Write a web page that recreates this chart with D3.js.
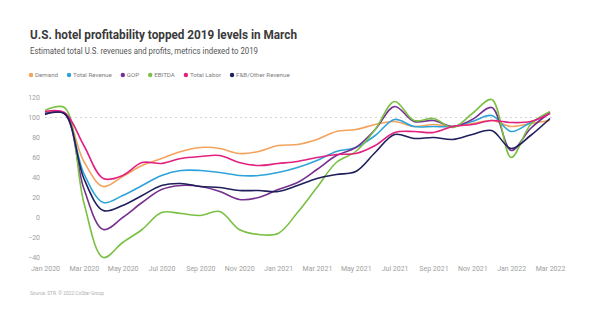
<!DOCTYPE html>
<html>
<head>
<meta charset="utf-8">
<script src="https://cdn.jsdelivr.net/npm/d3@7"></script>
<style>
  body { margin: 0; background: #fff; }
  svg { font-family: Roboto, "Noto Sans", sans-serif; }
</style>
</head>
<body>
<svg id="chart"></svg>
<script>
const svg = d3.select("#chart");
const box = { width: 590, height: 324 };

// month index 0 = Jan 2020 ... 26 = Mar 2022
const monthIndex = d3.range(27);
const tickIndex = [0, 2, 4, 6, 8, 10, 12, 14, 16, 18, 20, 22, 24, 26];
const tickLabels = ["Jan 2020", "Mar 2020", "May 2020", "Jul 2020", "Sep 2020", "Nov 2020",
  "Jan 2021", "Mar 2021", "May 2021", "Jul 2021", "Sep 2021", "Nov 2021", "Jan 2022", "Mar 2022"];
const yTicks = [-40, -20, 0, 20, 40, 60, 80, 100, 120];

const seriesNames = ["Demand", "Total Revenue", "GOP", "EBITDA", "Total Labor", "F&B/Other Revenue"];
const seriesColors = ["#f4a35c", "#2ea3d9", "#76308f", "#79c043", "#e2207f", "#1e1f5b"];

const demand = [105, 104, 56, 31, 41, 52, 59, 66, 70, 69, 64, 66, 72, 73, 78, 86, 88, 93, 96, 91, 93, 91, 94, 97, 91, 94, 97];
const totalRevenue = [104, 104, 44, 15, 22, 32, 42, 47, 47, 45, 42, 42, 45, 50, 57, 66, 70, 82, 98, 91, 91, 91, 96, 102, 86, 95, 105];
const gop = [104, 104, 29, -12, 0, 15, 28, 32, 31, 26, 18, 20, 28, 35, 48, 62, 70, 88, 111, 96, 97, 91, 98, 110, 67, 89, 105];
const ebitda = [107, 110, 15, -40, -25, -12, 5, 4, 2, 6, -12, -17, -16, 5, 30, 55, 66, 88, 116, 97, 99, 90, 104, 118, 60, 93, 106];
const totalLabor = [106, 105, 72, 39, 42, 55, 54, 59, 61, 62, 55, 52, 54, 56, 60, 63, 64, 72, 85, 86, 85, 91, 93, 97, 95, 96, 104];
const fbOther = [103, 104, 39, 7, 12, 22, 32, 34, 31, 30, 27, 27, 26, 32, 39, 43, 46, 65, 83, 79, 80, 78, 83, 87, 69, 82, 99];

const seriesValues = [demand, totalRevenue, gop, ebitda, totalLabor, fbOther];

svg.attr("width", box.width).attr("height", box.height);

const x = d3.scaleLinear().domain([0, 26]).range([45, 550]);
const y = d3.scaleLinear().domain([-40, 120]).range([257.5, 97.5]);

// title + subtitle
svg.append("text")
  .attr("x", 30).attr("y", 39)
  .attr("font-size", 13.5).attr("font-weight", 700)
  .attr("fill", "#3a3a3a")
  .attr("textLength", 267).attr("lengthAdjust", "spacingAndGlyphs")
  .text("U.S. hotel profitability topped 2019 levels in March");

svg.append("text")
  .attr("x", 30).attr("y", 53.5)
  .attr("font-size", 9).attr("fill", "#555")
  .attr("textLength", 228).attr("lengthAdjust", "spacingAndGlyphs")
  .text("Estimated total U.S. revenues and profits, metrics indexed to 2019");

// legend
const legend = svg.append("g").attr("transform", "translate(31, 75)");
let lx = 0;
seriesNames.forEach((name, i) => {
  legend.append("circle")
    .attr("cx", lx).attr("cy", 0).attr("r", 2.2)
    .attr("fill", seriesColors[i]);
  const t = legend.append("text")
    .attr("x", lx + 4).attr("y", 2.3)
    .attr("font-size", 6.2).attr("fill", "#808080")
    .text(name);
  lx += 4 + t.node().getComputedTextLength() + 11;
});

// 100 reference line
svg.append("line")
  .attr("x1", x(0)).attr("x2", x(26) + 5)
  .attr("y1", y(100)).attr("y2", y(100))
  .attr("stroke", "#d6d6d6")
  .attr("stroke-width", 1)
  .attr("stroke-dasharray", "2 3");

// axes
const yAxis = svg.append("g")
  .attr("transform", "translate(43, 0)")
  .call(d3.axisLeft(y).tickValues(yTicks).tickSize(0).tickPadding(3));
yAxis.select(".domain").remove();
yAxis.selectAll("text")
  .attr("font-family", "Roboto, sans-serif")
  .attr("font-size", 7).attr("fill", "#a0a0a0");

const xAxis = svg.append("g")
  .attr("transform", "translate(0, 258)")
  .call(d3.axisBottom(x).tickValues(tickIndex).tickSize(0).tickPadding(8.5)
    .tickFormat((d, i) => tickLabels[i]));
xAxis.select(".domain").remove();
xAxis.selectAll("text")
  .attr("font-family", "Roboto, sans-serif")
  .attr("font-size", 7).attr("fill", "#a0a0a0");

// lines
const line = d3.line()
  .x((d, i) => x(monthIndex[i]))
  .y(d => y(d))
  .curve(d3.curveCatmullRom.alpha(0.5));

seriesValues.forEach((vals, i) => {
  svg.append("path")
    .attr("d", line(vals))
    .attr("fill", "none")
    .attr("stroke", seriesColors[i])
    .attr("stroke-width", 1.6)
    .attr("stroke-linejoin", "round");
});

// source
svg.append("text")
  .attr("x", 30).attr("y", 295)
  .attr("font-size", 4.8).attr("fill", "#b0b0b0")
  .text("Source: STR. © 2022 CoStar Group");
</script>
</body>
</html>
